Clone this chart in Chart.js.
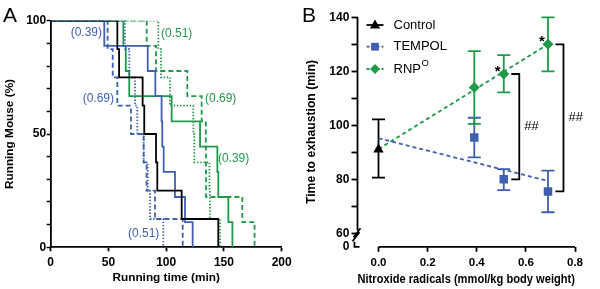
<!DOCTYPE html>
<html>
<head>
<meta charset="utf-8">
<script src="https://cdn.jsdelivr.net/npm/chart.js@4.4.1/dist/chart.umd.min.js"></script>
<style>
  html, body { margin: 0; padding: 0; background: #fff; }
  #wrap { position: relative; width: 600px; height: 289px; }
  #wrap canvas { position: absolute; top: 0; width: 300px; height: 289px; }
  #chartA { left: 0; }
  #chartB { left: 300px; }
</style>
</head>
<body>
<div id="wrap">
  <canvas id="chartA" width="300" height="289"></canvas>
  <canvas id="chartB" width="300" height="289"></canvas>
</div>
<script>
// ---- Panel A: Kaplan-Meier curves (running time in min, % of mice still running) ----
const kmTimeControl = [0, 57.7, 59.2, 79.6, 81.0, 91.2, 92.3, 113.4, 145.1];
const kmSurvControl = [100, 87.5, 75, 62.5, 50, 37.5, 25, 12.5, 0];

const kmTimeTempol39 = [0, 46.4, 84.0, 90.6, 96.0, 96.6, 97.8, 107.6, 116.3, 122.9];
const kmSurvTempol39 = [100, 88.9, 77.8, 66.7, 55.6, 44.4, 33.3, 22.2, 11.1, 0];

const kmTimeTempol51 = [0, 64.3, 68.1, 73.0, 75.0, 80.5, 84.0, 86.0, 97.5];
const kmSurvTempol51 = [100, 87.5, 75, 62.5, 50, 37.5, 25, 12.5, 0];

const kmTimeTempol69 = [0, 49.3, 53.7, 57.7, 69.5, 80.5, 83.0, 90.3, 114.3];
const kmSurvTempol69 = [100, 87.5, 75, 62.5, 50, 37.5, 25, 12.5, 0];

const kmTimeRnp39 = [0, 62.9, 65.0, 68.0, 104.7, 129.3, 144.3, 145.1, 153.8, 157.3];
const kmSurvRnp39 = [100, 88.9, 77.8, 66.7, 55.6, 44.4, 33.3, 22.2, 11.1, 0];

const kmTimeRnp51 = [0, 93.2, 95.5, 103.3, 123.5, 124.3, 137.5, 137.9, 146.6];
const kmSurvRnp51 = [100, 87.5, 75, 62.5, 50, 37.5, 25, 12.5, 0];

const kmTimeRnp69 = [0, 83.1, 91.2, 118.3, 130.7, 134.3, 134.4, 134.5, 165.9, 176.5];
const kmSurvRnp69 = [100, 88.9, 77.8, 66.7, 55.6, 44.4, 33.3, 22.2, 11.1, 0];

const xTicksA = [0, 50, 100, 150, 200];
const yTicksA = [0, 5, 10, 15, 20, 25, 30, 35, 40, 45, 50, 55, 60, 65, 70, 75, 80, 85, 90, 95, 100];
const yLabelledA = [0, 50, 100];

// dose labels written next to the curves (text, group, anchor time, anchor %)
const doseLabelText = ['(0.39)', '(0.69)', '(0.51)', '(0.51)', '(0.69)', '(0.39)'];
const doseLabelGroup = ['tempol', 'tempol', 'tempol', 'rnp', 'rnp', 'rnp'];
const doseLabelTime = [17.3, 27.7, 66.9, 95.5, 133.6, 144.8];
const doseLabelPct = [94.5, 65.4, 5.9, 94.1, 65.4, 39.0];

// ---- Panel B: time to exhaustion vs dose ----
const controlDose = [0];
const controlMean = [91];
const controlUpper = [102.2];
const controlLower = [80.6];

const doseB = [0.39, 0.51, 0.69];
const tempolMean = [95.5, 80.0, 75.5];
const tempolUpper = [102.8, 83.8, 83.2];
const tempolLower = [88.1, 76.0, 67.8];
const rnpMean = [114.0, 119.0, 130.0];
const rnpUpper = [127.5, 126.0, 140.0];
const rnpLower = [100.5, 112.2, 120.0];

// dashed regression lines (read at both ends)
const fitDose = [0, 0.69];
const tempolFit = [95.2, 79.4];
const rnpFit = [91.2, 130.0];

// significance marks
const starDose = [0.51, 0.69];
const hashDose = [0.51, 0.69];

const xTicksB = [0, 0.2, 0.4, 0.6, 0.8];
const yTicksB = [55, 60, 70, 80, 90, 100, 110, 120, 130, 140];
const yTickTextB = ['0', '60', '', '80', '', '100', '', '120', '', '140'];

const FONT = '"Liberation Sans", Arial, Helvetica, sans-serif';
const BLACK = '#000000';
const BLUE = '#3f5fb0';
const GREEN = '#1f9a4a';
const LW = 1.8;

Chart.defaults.font.family = FONT;
Chart.defaults.color = BLACK;
Chart.defaults.animation = false;

function pts(xs, ys) {
    return xs.map((x, i) => ({ x: x, y: ys[i] }));
}

function kmSet(times, surv, color, dash) {
    return {
        data: pts(times, surv),
        showLine: true,
        stepped: true,
        borderColor: color,
        borderWidth: LW,
        borderDash: dash,
        pointRadius: 0,
        fill: false
    };
}

const SOLID = [];
const DASH = [5, 3];
const DOT = [1.4, 1.8];

// ---------- panel A ----------
const panelADecor = {
    id: 'panelADecor',
    afterDraw(chart) {
        const { ctx, scales: { x, y } } = chart;
        ctx.save();
        ctx.fillStyle = BLACK;
        ctx.font = '21px ' + FONT;
        ctx.textBaseline = 'alphabetic';
        ctx.fillText('A', 3, 22);

        ctx.font = '12px ' + FONT;
        ctx.textBaseline = 'middle';
        ctx.textAlign = 'left';
        doseLabelText.forEach((txt, i) => {
            ctx.fillStyle = doseLabelGroup[i] === 'tempol' ? BLUE : GREEN;
            ctx.fillText(txt, x.getPixelForValue(doseLabelTime[i]), y.getPixelForValue(doseLabelPct[i]));
        });
        ctx.restore();
    }
};

new Chart(document.getElementById('chartA'), {
    type: 'scatter',
    data: {
        datasets: [
            kmSet(kmTimeControl, kmSurvControl, BLACK, SOLID),
            kmSet(kmTimeTempol39, kmSurvTempol39, BLUE, SOLID),
            kmSet(kmTimeTempol51, kmSurvTempol51, BLUE, DOT),
            kmSet(kmTimeTempol69, kmSurvTempol69, BLUE, DASH),
            kmSet(kmTimeRnp39, kmSurvRnp39, GREEN, SOLID),
            kmSet(kmTimeRnp51, kmSurvRnp51, GREEN, DOT),
            kmSet(kmTimeRnp69, kmSurvRnp69, GREEN, DASH)
        ]
    },
    options: {
        responsive: false,
        layout: { padding: { top: 20.7, right: 18.3, left: 0, bottom: 0 } },
        plugins: { legend: { display: false }, tooltip: { enabled: false } },
        scales: {
            x: {
                type: 'linear',
                min: 0,
                max: 200,
                afterFit(s) { s.height = 41.7; },
                afterBuildTicks(s) { s.ticks = xTicksA.map(v => ({ value: v })); },
                border: { color: BLACK, width: LW },
                grid: { drawOnChartArea: false, tickLength: 4, tickWidth: LW, tickColor: BLACK },
                ticks: { font: { size: 12, weight: 'bold' }, padding: 4, maxRotation: 0 },
                title: {
                    display: true,
                    text: 'Running time (min)',
                    font: { size: 11.8, weight: 'bold' },
                    padding: { top: 0, bottom: 4 }
                }
            },
            y: {
                min: 0,
                max: 100,
                afterFit(s) { s.width = 50.7; },
                afterBuildTicks(s) { s.ticks = yTicksA.map(v => ({ value: v })); },
                border: { color: BLACK, width: LW },
                grid: { drawOnChartArea: false, tickLength: 4, tickWidth: 1.5, tickColor: BLACK },
                ticks: {
                    font: { size: 12, weight: 'bold' },
                    padding: 0.5,
                    callback: v => (yLabelledA.includes(v) ? String(v) : '')
                },
                title: {
                    display: true,
                    text: 'Running Mouse (%)',
                    font: { size: 11.8, weight: 'bold' },
                    padding: { top: 3, bottom: 0 }
                }
            }
        }
    },
    plugins: [panelADecor]
});

// ---------- panel B ----------
function drawMarker(ctx, style, cx, cy, r, color) {
    ctx.beginPath();
    if (style === 'triangle') {
        ctx.moveTo(cx, cy - r);
        ctx.lineTo(cx + r * 0.866, cy + r * 0.5);
        ctx.lineTo(cx - r * 0.866, cy + r * 0.5);
    } else if (style === 'rect') {
        const h = r * Math.SQRT1_2;
        ctx.rect(cx - h, cy - h, 2 * h, 2 * h);
    } else {
        ctx.moveTo(cx, cy - r);
        ctx.lineTo(cx + r, cy);
        ctx.lineTo(cx, cy + r);
        ctx.lineTo(cx - r, cy);
    }
    ctx.closePath();
    ctx.fillStyle = color;
    ctx.fill();
}

const panelBDecor = {
    id: 'panelBDecor',
    beforeDatasetsDraw(chart) {
        const { ctx, scales: { x, y } } = chart;
        ctx.save();
        ctx.lineWidth = LW;
        const groups = [
            { xs: controlDose, lo: controlLower, hi: controlUpper, color: BLACK },
            { xs: doseB, lo: tempolLower, hi: tempolUpper, color: BLUE },
            { xs: doseB, lo: rnpLower, hi: rnpUpper, color: GREEN }
        ];
        groups.forEach(g => {
            ctx.strokeStyle = g.color;
            g.xs.forEach((d, i) => {
                const px = x.getPixelForValue(d);
                const top = y.getPixelForValue(g.hi[i]);
                const bot = y.getPixelForValue(g.lo[i]);
                ctx.beginPath();
                ctx.moveTo(px, top); ctx.lineTo(px, bot);
                ctx.moveTo(px - 6.5, top); ctx.lineTo(px + 6.5, top);
                ctx.moveTo(px - 6.5, bot); ctx.lineTo(px + 6.5, bot);
                ctx.stroke();
            });
        });
        ctx.restore();
    },
    afterDraw(chart) {
        const { ctx, chartArea, scales: { x, y } } = chart;
        ctx.save();
        ctx.strokeStyle = BLACK;
        ctx.fillStyle = BLACK;
        ctx.lineWidth = LW;

        // axes: x axis from 0.0 to 0.8, y axis with a break below 60
        const x0 = chartArea.left;
        const yb = chartArea.bottom;
        const y60 = y.getPixelForValue(60);
        ctx.beginPath();
        ctx.moveTo(x.getPixelForValue(0), yb);
        ctx.lineTo(x.getPixelForValue(0.8), yb);
        ctx.moveTo(x0, y.getPixelForValue(140));
        ctx.lineTo(x0, y60 - 3);
        ctx.moveTo(x0 - 4, y60 + 4); ctx.lineTo(x0 + 3, y60 - 5);
        ctx.moveTo(x0 - 5, y60 + 8); ctx.lineTo(x0 + 2, y60 - 1);
        ctx.moveTo(x0 - 3, y60 + 8.5);
        ctx.lineTo(x0 - 3, yb);
        ctx.lineTo(x0 + 2, yb);
        ctx.stroke();

        // significance brackets between RNPO and TEMPOL
        ctx.font = '13px ' + FONT;
        ctx.textAlign = 'left';
        ctx.textBaseline = 'middle';
        hashDose.forEach(d => {
            const i = doseB.indexOf(d);
            const px = x.getPixelForValue(d);
            const yt = y.getPixelForValue(rnpMean[i]);
            const yl = y.getPixelForValue(tempolMean[i]);
            ctx.beginPath();
            ctx.moveTo(px + 7.5, yt);
            ctx.lineTo(px + 15.5, yt);
            ctx.lineTo(px + 15.5, yl);
            ctx.lineTo(px + 7.5, yl);
            ctx.stroke();
            ctx.fillText('##', px + 20.5, (yt + yl) / 2);
        });

        // asterisks above RNPO points
        ctx.font = 'bold 15px ' + FONT;
        ctx.textAlign = 'center';
        ctx.textBaseline = 'alphabetic';
        starDose.forEach(d => {
            const i = doseB.indexOf(d);
            ctx.fillText('*', x.getPixelForValue(d) - 6, y.getPixelForValue(rnpMean[i]) + 1.5);
        });

        // legend
        const legend = [
            { text: 'Control', color: BLACK, dash: [], marker: 'triangle', r: 6 },
            { text: 'TEMPOL', color: BLUE, dash: [3, 2], marker: 'rect', r: 5.5 },
            { text: 'RNP', sup: 'O', color: GREEN, dash: [3, 2], marker: 'rectRot', r: 5 }
        ];
        const ly = [25, 46.7, 69];
        legend.forEach((item, i) => {
            ctx.strokeStyle = item.color;
            ctx.lineWidth = LW;
            ctx.setLineDash(item.dash);
            ctx.beginPath();
            ctx.moveTo(66.5, ly[i]);
            ctx.lineTo(83.5, ly[i]);
            ctx.stroke();
            ctx.setLineDash([]);
            drawMarker(ctx, item.marker, 75, ly[i] + (item.marker === 'triangle' ? 0.5 : 0), item.r, item.color);
            ctx.fillStyle = BLACK;
            ctx.font = '13px ' + FONT;
            ctx.textAlign = 'left';
            ctx.textBaseline = 'middle';
            ctx.fillText(item.text, 93.5, ly[i]);
            if (item.sup) {
                const w = ctx.measureText(item.text).width;
                ctx.font = '9.5px ' + FONT;
                ctx.fillText(item.sup, 93.5 + w + 0.5, ly[i] - 5.5);
            }
        });

        ctx.fillStyle = BLACK;
        ctx.font = '21px ' + FONT;
        ctx.textAlign = 'left';
        ctx.textBaseline = 'alphabetic';
        ctx.fillText('B', 2, 22);
        ctx.restore();
    }
};

new Chart(document.getElementById('chartB'), {
    type: 'scatter',
    data: {
        datasets: [
            {
                data: pts(controlDose, controlMean),
                pointStyle: 'triangle',
                pointRadius: 6,
                backgroundColor: BLACK,
                borderWidth: 0,
                showLine: false
            },
            {
                data: pts(doseB, tempolMean),
                pointStyle: 'rect',
                pointRadius: 6,
                backgroundColor: BLUE,
                borderWidth: 0,
                showLine: false
            },
            {
                data: pts(doseB, rnpMean),
                pointStyle: 'rectRot',
                pointRadius: 5.5,
                backgroundColor: GREEN,
                borderWidth: 0,
                showLine: false
            },
            {
                data: pts(fitDose, tempolFit),
                showLine: true,
                borderColor: BLUE,
                borderWidth: LW,
                borderDash: [4, 3],
                pointRadius: 0
            },
            {
                data: pts(fitDose, rnpFit),
                showLine: true,
                borderColor: GREEN,
                borderWidth: LW,
                borderDash: [4, 3],
                pointRadius: 0
            }
        ]
    },
    options: {
        responsive: false,
        layout: { padding: { top: 17.3, right: 25, left: 0, bottom: 0 } },
        plugins: { legend: { display: false }, tooltip: { enabled: false } },
        scales: {
            x: {
                type: 'linear',
                min: -0.0855,
                max: 0.8,
                afterFit(s) { s.height = 42.2; },
                afterBuildTicks(s) { s.ticks = xTicksB.map(v => ({ value: v })); },
                border: { display: false },
                grid: { drawOnChartArea: false, tickLength: 5, tickWidth: LW, tickColor: BLACK },
                ticks: {
                    font: { size: 11.5, weight: 'bold' },
                    padding: 4,
                    maxRotation: 0,
                    callback: v => Number(v).toFixed(1)
                },
                title: {
                    display: true,
                    text: 'Nitroxide radicals (mmol/kg body weight)',
                    font: { size: 12.2, weight: 'bold' },
                    padding: { top: 0, bottom: 2.3 }
                }
            },
            y: {
                min: 55,
                max: 140,
                afterFit(s) { s.width = 57.5; },
                afterBuildTicks(s) { s.ticks = yTicksB.map(v => ({ value: v })); },
                border: { display: false },
                grid: {
                    drawOnChartArea: false,
                    tickLength: 6,
                    tickWidth: LW,
                    tickColor: c => (c.tick && c.tick.value === 55 ? 'rgba(0,0,0,0)' : BLACK)
                },
                ticks: {
                    font: { size: 12, weight: 'bold' },
                    padding: 2.2,
                    callback: v => yTickTextB[yTicksB.indexOf(v)]
                },
                title: {
                    display: true,
                    text: 'Time to exhaustion (min)',
                    font: { size: 12.2, weight: 'bold' },
                    padding: { top: 4.6, bottom: 0 }
                }
            }
        }
    },
    plugins: [panelBDecor]
});
</script>
</body>
</html>
